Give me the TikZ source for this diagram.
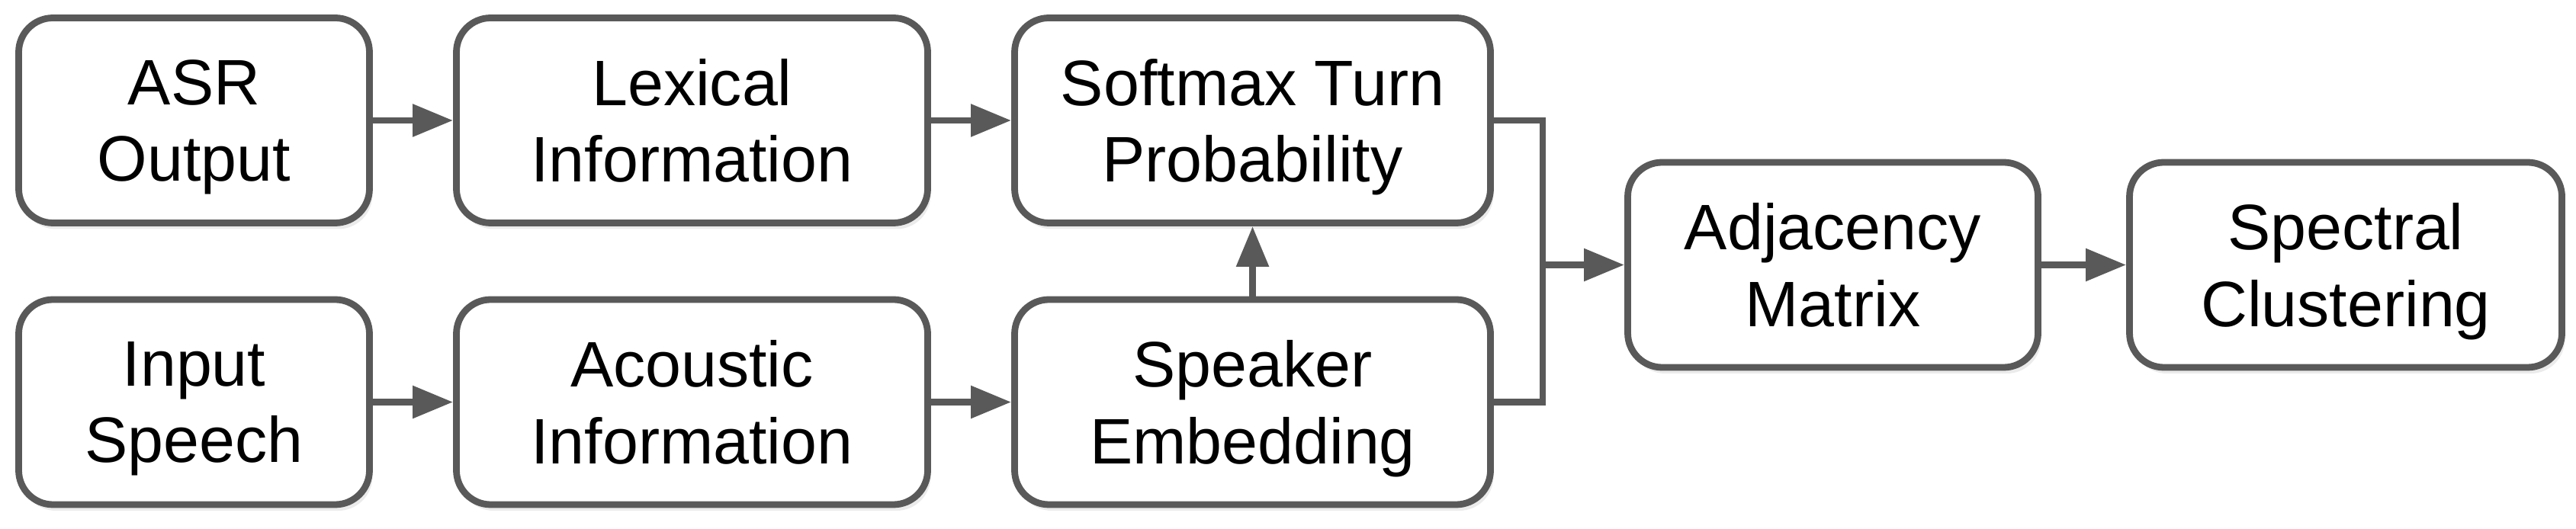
\documentclass[tikz,border=0pt]{standalone}
\usepackage{fontspec}
\setmainfont{Liberation Sans}
\usetikzlibrary{arrows.meta,shadows}
\definecolor{linegray}{HTML}{595959}

\begin{document}
\begin{tikzpicture}[>={Triangle[length=0.53cm, width=0.41cm]}, line width=2.5pt,
		blk/.style={draw=linegray, fill=white, rounded corners=0.45cm, align=center, inner sep=0pt,
			minimum height=2.69cm, text depth=0pt, font=\fontsize{24}{28.7}\selectfont,
			drop shadow={shadow xshift=0.04cm, shadow yshift=-0.08cm, fill=black, opacity=0.08}},
		conn/.style={->, draw=linegray}]
	\useasboundingbox (0,0) rectangle (33.78,-6.94);
	
	% === 上排：词汇分支 ===
	\node[blk, minimum width=4.60cm] (asr) at (2.545,-1.58) {ASR\\Output};
	\node[blk, minimum width=6.18cm] (lex) at (9.075,-1.58) {Lexical\\Information};
	\node[blk, minimum width=6.24cm] (soft) at (16.425,-1.58) {Softmax Turn\\Probability};
	
	% === 下排：声学分支 ===
	\node[blk, minimum width=4.60cm] (inp) at (2.545,-5.275) {Input\\Speech};
	\node[blk, minimum width=6.18cm] (acou) at (9.075,-5.275) {Acoustic\\Information};
	\node[blk, minimum width=6.24cm] (spk) at (16.425,-5.275) {Speaker\\Embedding};
	
	% === 右侧：聚类 ===
	\node[blk, minimum width=5.38cm] (adj) at (24.035,-3.475) {Adjacency\\Matrix};
	\node[blk, minimum width=5.67cm] (spec) at (30.76,-3.475) {Spectral\\Clustering};
	
	% 连线
	\draw[conn] (asr) -- (lex);
	\draw[conn] (lex) -- (soft);
	\draw[conn] (inp) -- (acou);
	\draw[conn] (acou) -- (spk);
	\draw[conn] (spk) -- (soft);
	
	% 汇合点
	\coordinate (join) at (20.23,-3.475);
	\draw[linegray, line join=miter] (soft.east) -| (join) |- (spk.east);
	\draw[conn] (join) -- (adj);
	\draw[conn] (adj) -- (spec);
\end{tikzpicture}
\end{document}
